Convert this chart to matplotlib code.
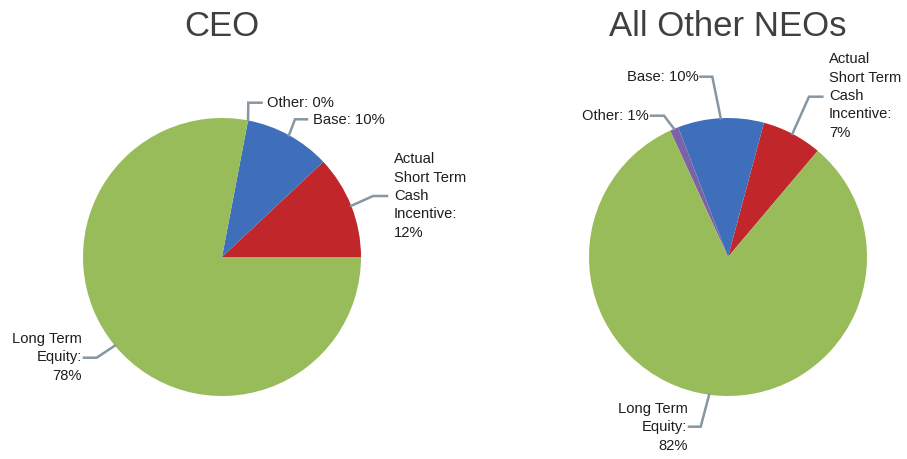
import numpy as np
import matplotlib.pyplot as plt

plt.rcParams['font.family'] = ['Liberation Sans', 'DejaVu Sans']

# pay mix, percent of total compensation
names = ['Actual\nShort Term\nCash\nIncentive', 'Base', 'Other', 'Long Term\nEquity']
ceo_values = [12, 10, 0, 78]
neo_values = [7, 10, 1, 82]
titles = ['CEO', 'All Other NEOs']

colors = ['#C0262A', '#3F6FBA', '#7B62A9', '#98BC59']
leader_color = '#8597A2'
radius = 139

# label placement per slice: text x, text y, ha, elbow x, elbow y, line end x
ceo_layout = [
    (394, 263, 'left', 373, 263, 387),
    (313, 339.5, 'left', 295, 339.7, 307),
    (267, 356, 'left', 248.3, 356.3, 261.5),
    (82, 101.5, 'right', 96.7, 101.3, 84),
]
neo_layout = [
    (829, 363, 'left', 809, 362.3, 822.3),
    (699, 382.3, 'right', 712.3, 382.3, 700.5),
    (649, 343.3, 'right', 664, 343.3, 651),
    (687.5, 31.5, 'right', 700.7, 32.3, 689),
]

fig = plt.figure(figsize=(9.07, 4.59), dpi=100)
ax = fig.add_axes([0, 0, 1, 1])


def draw_pie(values, title, center, startangle, layout):
    wedges, _ = ax.pie(values, colors=colors, startangle=startangle,
                       center=center, radius=radius,
                       wedgeprops=dict(linewidth=0))
    ax.text(center[0], 433, title, ha='center', va='center',
            fontsize=25, color='#404040')
    for w, name, v, (tx, ty, ha, ex, ey, endx) in zip(wedges, names, values, layout):
        mid = np.deg2rad((w.theta1 + w.theta2) / 2)
        sx = center[0] + radius * np.cos(mid)
        sy = center[1] + radius * np.sin(mid)
        ax.plot([sx, ex, endx], [sy, ey, ey], color=leader_color, lw=1.8,
                solid_joinstyle='miter')
        sep = '\n' if '\n' in name else ' '
        ax.text(tx, ty, f'{name}:{sep}{v}%', ha=ha, va='center',
                multialignment=ha, fontsize=10.6, color='#1E1E1E',
                linespacing=1.4)


draw_pie(ceo_values, titles[0], (222, 202), 0, ceo_layout)
draw_pie(neo_values, titles[1], (728, 202), 49.8, neo_layout)

ax.set_xlim(0, 907)
ax.set_ylim(0, 459)
ax.axis('off')

fig.savefig('out.png', dpi=100)
